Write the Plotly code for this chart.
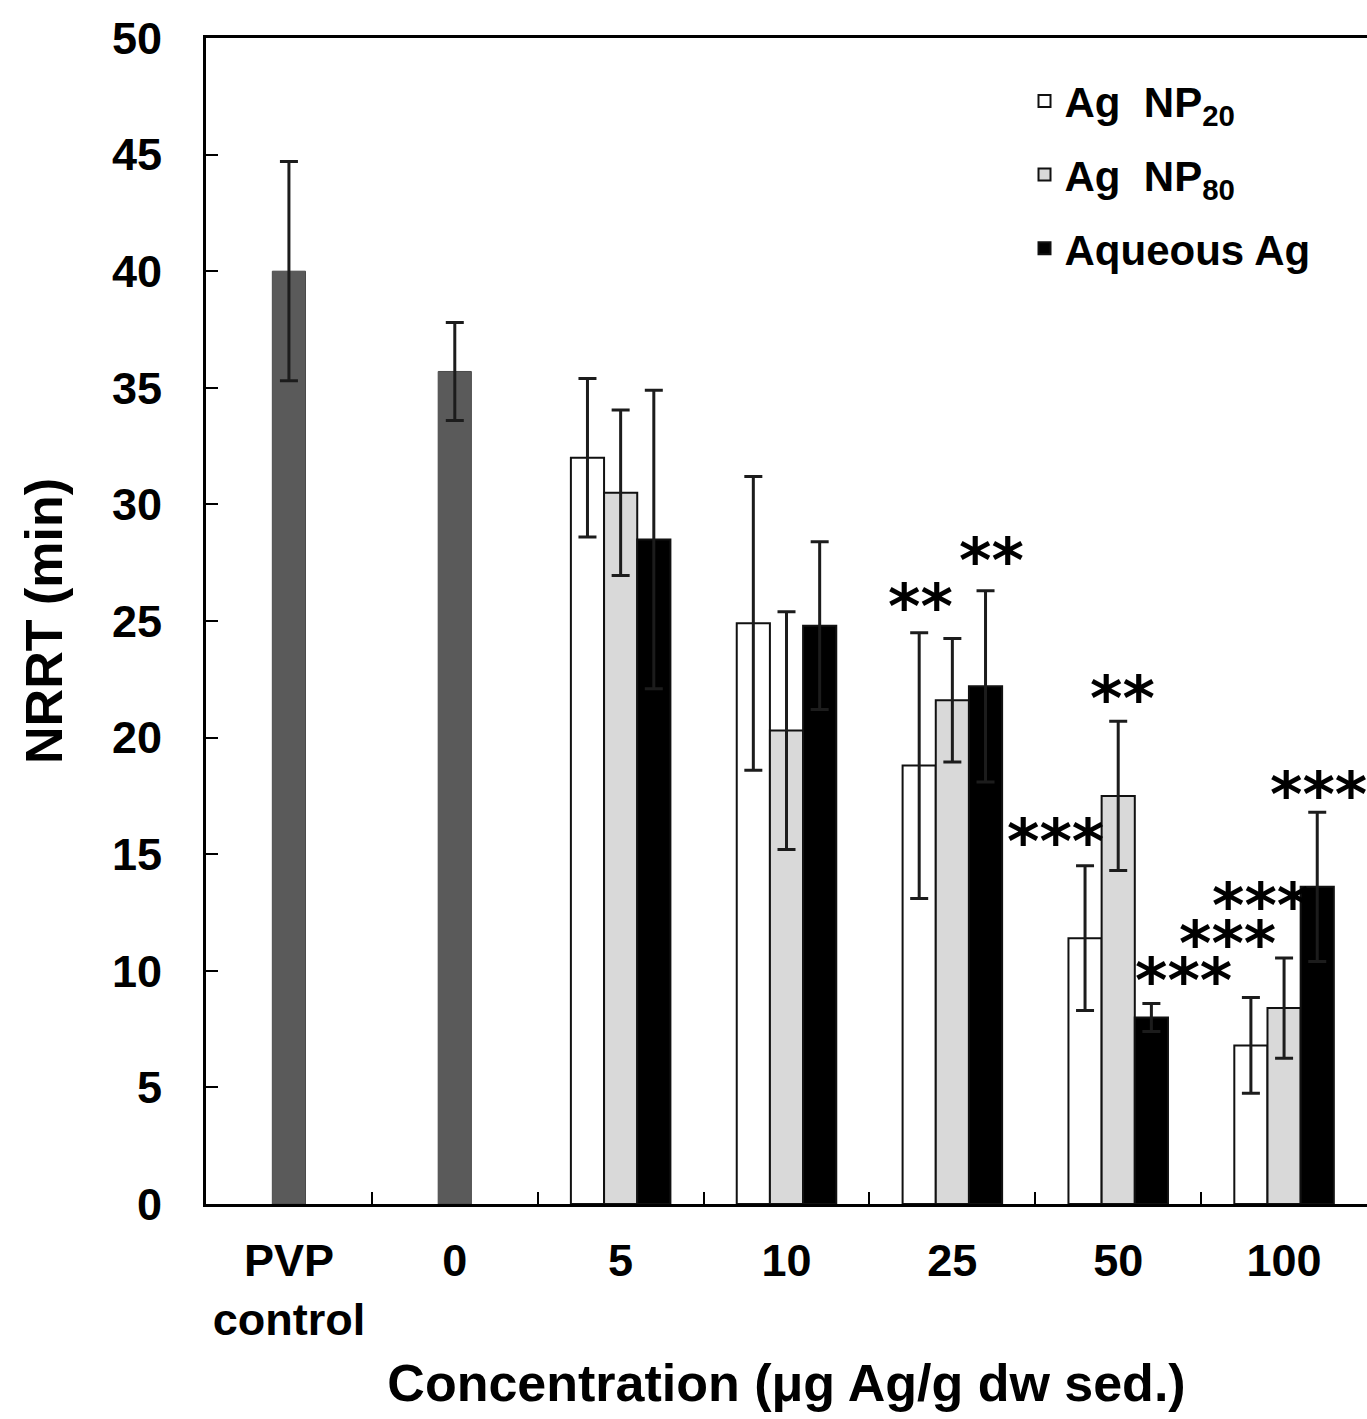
import plotly.graph_objects as go

categories = ["PVP<br>control", "0", "5", "10", "25", "50", "100"]
control_cats = ["PVP<br>control", "0"]
control_vals = [40.0, 35.7]
control_err = [4.7, 2.1]

conc_cats = ["5", "10", "25", "50", "100"]
np20_vals = [32.0, 24.9, 18.8, 11.4, 6.8]
np20_err = [3.4, 6.3, 5.7, 3.1, 2.05]
np80_vals = [30.5, 20.3, 21.6, 17.5, 8.4]
np80_err = [3.55, 5.1, 2.65, 3.2, 2.15]
aq_vals = [28.5, 24.8, 22.2, 8.0, 13.6]
aq_err = [6.4, 3.6, 4.1, 0.6, 3.2]

# significance labels: (category, series, label)
stars = [
    ("25", "np20", "**"),
    ("25", "aq", "**"),
    ("50", "np20", "***"),
    ("50", "np80", "**"),
    ("50", "aq", "***"),
    ("100", "np20", "***"),
    ("100", "np80", "***"),
    ("100", "aq", "***"),
]
# pixel nudges for star labels (styling only)
star_shift = [(1, 26), (6, 30), (-30, 24), (4, 23), (32, 23), (-23, 54), (-24, 52), (1, 18)]

BW = 0.2
offsets = {"np20": -0.3, "np80": -0.1, "aq": 0.1}
series_data = {
    "np20": (np20_vals, np20_err),
    "np80": (np80_vals, np80_err),
    "aq": (aq_vals, aq_err),
}

fig = go.Figure()
err_style = dict(type="data", symmetric=True, color="#1c1c1c", thickness=3, width=9)

fig.add_trace(go.Bar(
    x=control_cats, y=control_vals, width=BW, offset=-0.1,
    marker=dict(color="#5a5a5a", line=dict(color="#4a4a4a", width=1)),
    error_y=dict(array=control_err, **err_style), showlegend=False,
))
names = {"np20": "Ag&nbsp; NP<sub>20</sub>", "np80": "Ag&nbsp; NP<sub>80</sub>", "aq": "Aqueous Ag"}
colors = {"np20": "white", "np80": "#d9d9d9", "aq": "black"}
for i, key in enumerate(["np20", "np80", "aq"]):
    vals, errs = series_data[key]
    fig.add_trace(go.Bar(
        x=conc_cats, y=vals, width=BW, offset=offsets[key], name=names[key],
        marker=dict(color=colors[key], line=dict(color="#111", width=2)),
        error_y=dict(array=errs, **err_style), legendgroup=key,
    ))

cat_index = {c: i for i, c in enumerate(categories)}
for (cat, key, lab), (dx, dy) in zip(stars, star_shift):
    vals, errs = series_data[key]
    j = conc_cats.index(cat)
    fig.add_annotation(
        x=cat_index[cat] + offsets[key] + BW / 2, y=vals[j] + errs[j],
        xref="x", yref="y", text=lab, showarrow=False,
        xshift=dx, yshift=dy, yanchor="middle", xanchor="center",
        font=dict(family="DejaVu Sans", size=62, color="black", weight="bold"),
    )

font = "Liberation Sans, Arial, sans-serif"
fig.update_layout(
    width=1367, height=1412,
    margin=dict(l=206, r=0, t=38, b=208),
    paper_bgcolor="white", plot_bgcolor="white",
    barmode="overlay",
    font=dict(family=font, color="black"),
    showlegend=True,
    legend=dict(
        x=0.705, y=0.975, xanchor="left", yanchor="top",
        font=dict(family=font, size=42, color="black", weight="bold"),
        bgcolor="rgba(0,0,0,0)", traceorder="grouped", tracegroupgap=16,
    ),
    xaxis=dict(
        type="category", categoryorder="array", categoryarray=categories,
        range=[-0.5, 6.5], showline=True, linecolor="black", linewidth=3,
        mirror=True, ticks="inside", tickson="boundaries", ticklen=12, tickwidth=2,
        tickcolor="black", showgrid=False,
        tickfont=dict(family=font, size=45, color="black", weight="bold"),
        ticklabelstandoff=15,
        title=dict(text="Concentration (μg Ag/g dw sed.)", standoff=24,
                   font=dict(family=font, size=52, color="black", weight="bold")),
    ),
    yaxis=dict(
        range=[0, 50], dtick=5, showline=True, linecolor="black", linewidth=3,
        mirror=False, ticks="inside", ticklen=12, tickwidth=2, tickcolor="black",
        showgrid=False, zeroline=False,
        tickfont=dict(family=font, size=45, color="black", weight="bold"),
        ticklabelstandoff=32,
        title=dict(text="NRRT (min)", standoff=33,
                   font=dict(family=font, size=52, color="black", weight="bold")),
    ),
)

fig.write_html("out.html", config={"displayModeBar": False},
               post_script="document.body.style.margin='0';")
